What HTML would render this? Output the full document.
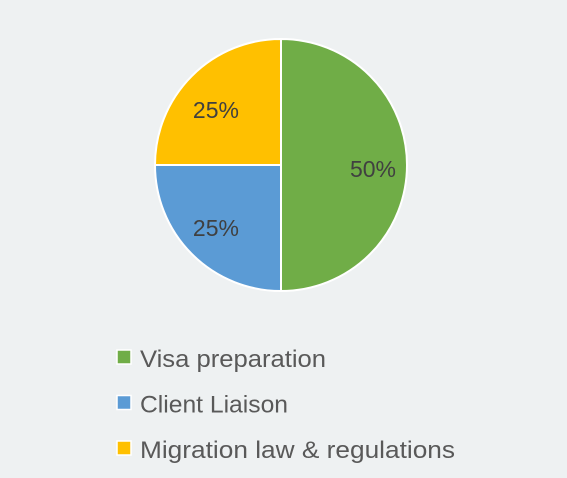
<!DOCTYPE html>
<html><head><meta charset="utf-8"><style>
html,body{margin:0;padding:0;background:#eef1f2;}
svg{display:block;font-family:"Liberation Sans",sans-serif;}
</style></head><body>
<svg width="567" height="478" viewBox="0 0 567 478">
<rect x="0" y="0" width="567" height="478" fill="#eef1f2"/>
<g id="slices"></g>
<g id="labels"></g>
<g id="legend"></g>
</svg>
<script>
const categories = ["Visa preparation","Client Liaison","Migration law & regulations"];
const values = [50,25,25];
const labels = ["50%","25%","25%"];
const colors = ["#70ad47","#5b9bd5","#ffc000"];
const NS="http://www.w3.org/2000/svg";
const cx=281, cy=165, r=126;
const total=values.reduce((a,b)=>a+b,0);
const sg=document.getElementById('slices'), lg=document.getElementById('labels'), leg=document.getElementById('legend');
let ang=0;
const legendW=[186,148,315];
values.forEach((v,i)=>{
  const a0=ang, a1=ang+v/total*2*Math.PI; ang=a1;
  const x0=cx+r*Math.sin(a0), y0=cy-r*Math.cos(a0), x1=cx+r*Math.sin(a1), y1=cy-r*Math.cos(a1);
  const p=document.createElementNS(NS,'path');
  p.setAttribute('d',`M${cx},${cy} L${x0},${y0} A${r},${r} 0 ${a1-a0>Math.PI?1:0} 1 ${x1},${y1} Z`);
  p.setAttribute('fill',colors[i]); p.setAttribute('stroke','#fff'); p.setAttribute('stroke-width','2');
  
  
  sg.appendChild(p);
  const am=(a0+a1)/2;
  const t=document.createElementNS(NS,'text');
  t.setAttribute('x',cx+r*0.73*Math.sin(am)); t.setAttribute('y',cy-r*0.66*Math.cos(am)+12);
  t.setAttribute('text-anchor','middle'); t.setAttribute('font-size','23'); t.setAttribute('fill','#404040');
  t.textContent=labels[i];
  
  
  lg.appendChild(t);
  const by=367+i*45.5;
  const s=document.createElementNS(NS,'rect');
  s.setAttribute('x',117); s.setAttribute('y',by-17); s.setAttribute('width',14); s.setAttribute('height',14);
  s.setAttribute('fill',colors[i]); s.setAttribute('stroke','#fff'); s.setAttribute('stroke-width','1.5');
  
  
  leg.appendChild(s);
  const lt=document.createElementNS(NS,'text');
  lt.setAttribute('x',140); lt.setAttribute('y',by); lt.setAttribute('font-size','24'); lt.setAttribute('fill','#595959');
  lt.setAttribute('textLength',legendW[i]); lt.setAttribute('lengthAdjust','spacingAndGlyphs');
  lt.textContent=categories[i];
  
  
  leg.appendChild(lt);
});
</script>
</body></html>
